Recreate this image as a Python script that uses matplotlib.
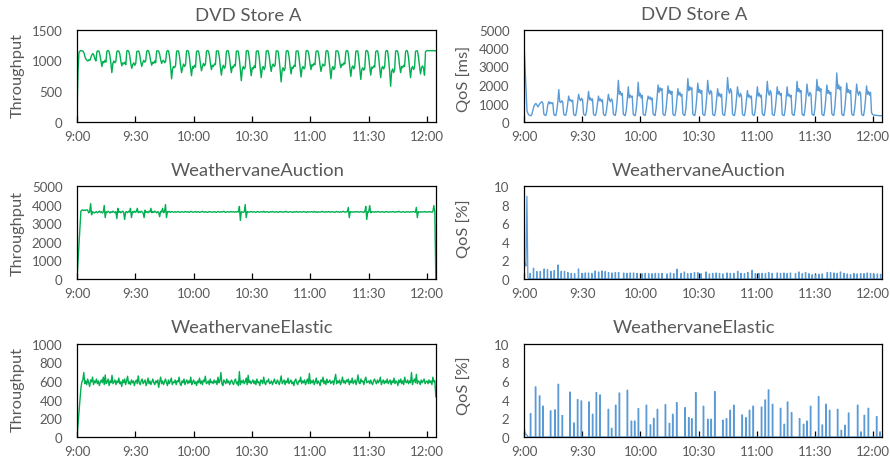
import numpy as np
import matplotlib
matplotlib.use("Agg")
import matplotlib.pyplot as plt

plt.rcParams['font.family'] = ['Lato', 'DejaVu Sans']

# ---------------- data ----------------
time_labels = ["9:00", "9:30", "10:00", "10:30", "11:00", "11:30", "12:00"]
time_ticks_min = [0, 30, 60, 90, 120, 150, 180]
x_end_min = 184.6

titles = ["DVD Store A", "WeathervaneAuction", "WeathervaneElastic"]
left_ylabel = "Throughput"
right_ylabels = ["QoS [ms]", "QoS [%]", "QoS [%]"]

# DVD Store A (sample step in minutes)
dvd_step = 0.512
dvd_throughput = [
    150, 820, 1130, 1150, 1160, 1155, 1150, 1120, 1060, 1020, 1000, 990, 1010, 1000, 1050, 1090, 1110, 1080, 1020, 990,
    1140, 1155, 1150, 1090, 1000, 900, 980, 960, 1000, 970,
    1145, 1160, 1150, 1080, 960, 800, 950, 990, 960, 980,
    1140, 1155, 1150, 1100, 990, 910, 960, 940, 970, 930,
    1150, 1160, 1145, 1070, 950, 870, 930, 960, 920, 950,
    1140, 1150, 1150, 1090, 980, 900, 960, 1000, 970, 990,
    1145, 1160, 1150, 1080, 990, 920, 970, 950, 990, 960,
    1150, 1155, 1150, 1100, 1010, 950, 990, 1000, 960, 980,
    1140, 1160, 1150, 1050, 900, 700, 860, 900, 880, 920,
    1145, 1155, 1150, 1060, 920, 800, 880, 940, 900, 930,
    1150, 1160, 1145, 1040, 880, 750, 900, 870, 920, 890,
    1140, 1155, 1150, 1070, 940, 830, 900, 950, 910, 940,
    1145, 1160, 1150, 1080, 950, 850, 920, 900, 940, 930,
    1150, 1155, 1150, 1050, 890, 760, 880, 920, 870, 900,
    1140, 1160, 1150, 1060, 920, 800, 900, 880, 930, 910,
    1145, 1155, 1145, 1030, 860, 670, 850, 900, 860, 890,
    1150, 1160, 1150, 1040, 880, 750, 880, 860, 910, 880,
    1140, 1155, 1150, 1050, 870, 720, 870, 900, 850, 900,
    1145, 1160, 1150, 1070, 930, 820, 910, 940, 900, 920,
    1150, 1155, 1145, 1020, 850, 650, 840, 880, 830, 870,
    1140, 1160, 1150, 1060, 900, 780, 890, 870, 920, 900,
    1145, 1155, 1150, 1040, 880, 730, 870, 900, 860, 890,
    1150, 1160, 1150, 1080, 950, 850, 930, 910, 950, 930,
    1140, 1155, 1150, 1070, 930, 820, 900, 940, 910, 920,
    1145, 1160, 1145, 1030, 860, 700, 860, 900, 850, 880,
    1150, 1155, 1150, 1090, 960, 880, 940, 920, 960, 940,
    1140, 1160, 1150, 1040, 880, 740, 880, 910, 860, 900,
    1145, 1155, 1150, 1030, 850, 690, 850, 880, 840, 870,
    1150, 1160, 1145, 1050, 890, 760, 890, 870, 910, 890,
    1140, 1155, 1150, 1040, 870, 720, 870, 900, 860, 900,
    1145, 1160, 1150, 1010, 820, 580, 820, 860, 800, 850,
    1150, 1155, 1150, 1060, 910, 800, 900, 880, 920, 900,
    1140, 1160, 1145, 1040, 870, 720, 870, 900, 850, 890,
    1145, 1155, 1150, 1050, 900, 780, 880, 910, 870, 760,
    1140, 1155, 1160, 1155, 1155, 1160, 1155, 1155, 1160, 1155, 1155,
]
dvd_qos_ms = [
    4250, 3000, 1800, 620, 450, 380, 350, 340, 420, 650, 850, 950, 1000, 920, 820, 900, 1000, 1050, 1100, 1020,
    430, 370, 350, 560, 950, 1100, 980, 1060, 1000, 1040,
    420, 360, 350, 600, 1050, 1750, 1100, 1050, 1150, 1080,
    430, 370, 360, 580, 1000, 1400, 1150, 1200, 1100, 1180,
    420, 360, 350, 620, 1050, 1500, 1250, 1150, 1280, 1200,
    430, 370, 360, 600, 1100, 1650, 1200, 1300, 1150, 1250,
    420, 370, 350, 580, 1000, 1400, 1150, 1250, 1100, 1200,
    430, 360, 350, 600, 1050, 1500, 1200, 1100, 1250, 1150,
    440, 380, 360, 700, 1300, 2250, 1500, 1650, 1450, 1550,
    430, 370, 350, 650, 1200, 1900, 1300, 1450, 1350, 1400,
    420, 360, 350, 680, 1250, 2150, 1400, 1550, 1300, 1450,
    430, 370, 360, 620, 1100, 1400, 1250, 1350, 1200, 1300,
    440, 380, 350, 700, 1300, 2000, 1600, 1850, 1700, 1800,
    430, 370, 360, 680, 1250, 1950, 1550, 1700, 1500, 1650,
    420, 360, 350, 650, 1200, 1800, 1450, 1600, 1400, 1500,
    440, 380, 360, 720, 1400, 2350, 1700, 1900, 1750, 1850,
    430, 370, 350, 700, 1300, 2100, 1600, 1750, 1550, 1700,
    440, 370, 360, 720, 1350, 2250, 1650, 1500, 1700, 1600,
    420, 360, 350, 650, 1200, 1800, 1400, 1550, 1350, 1500,
    440, 380, 360, 750, 1400, 2400, 1750, 1550, 1800, 1650,
    430, 370, 350, 680, 1250, 1900, 1500, 1350, 1550, 1400,
    420, 360, 350, 650, 1200, 1700, 1350, 1450, 1300, 1400,
    430, 370, 360, 680, 1250, 1900, 1400, 1550, 1350, 1450,
    440, 380, 350, 720, 1350, 2200, 1600, 1450, 1700, 1550,
    430, 370, 360, 680, 1250, 1900, 1500, 1650, 1450, 1550,
    420, 360, 350, 660, 1250, 1900, 1400, 1500, 1350, 1450,
    440, 380, 360, 720, 1350, 2200, 1650, 1800, 1600, 1700,
    430, 370, 350, 700, 1300, 2050, 1550, 1400, 1600, 1500,
    440, 380, 360, 740, 1400, 2300, 1700, 1900, 1650, 1800,
    430, 370, 350, 700, 1300, 2000, 1550, 1700, 1500, 1600,
    450, 380, 360, 780, 1500, 2650, 1800, 2000, 1750, 1900,
    430, 370, 350, 700, 1300, 2100, 1600, 1750, 1550, 1700,
    440, 380, 360, 720, 1300, 2050, 1600, 1450, 1650, 1550,
    430, 370, 350, 680, 1250, 1950, 1500, 1650, 1450, 1600,
    500, 420, 380, 370, 360, 360, 350, 350, 340, 340, 340,
]

# Weathervane (sample step in minutes)
wv_step = 0.5
auction_throughput = [
    0, 900, 1800, 2700, 3650, 3700, 3720, 3680, 3710, 3690, 3720, 3700, 3560, 3600, 4050, 3450, 3620, 3580, 3550, 3600,
    3620, 3560, 3600, 3650, 3580, 3620, 3550, 3600, 3950, 3300, 3620, 3580, 3640, 3600, 3550, 3620, 3580, 3650, 3600, 3560,
    3620, 3250, 3800, 3580, 3640, 3560, 3600, 3650, 3580, 3200, 3600, 3620, 3560, 3640, 3600, 3800, 3300, 3620, 3580, 3650,
    3580, 3620, 3800, 3560, 3620, 3580, 3650, 3600, 3550, 3300, 3700, 3580, 3620, 3560, 3640, 3600, 3800, 3560, 3620, 3580,
    3650, 3600, 3560, 3620, 3580, 3350, 3640, 3600, 3800, 3560, 3620, 4000, 3300, 3620, 3600, 3640, 3580, 3610, 3620, 3590,
    3600, 3620, 3590, 3610, 3630, 3600, 3580, 3610, 3620, 3600, 3590, 3630, 3610, 3600, 3620, 3580, 3600, 3640, 3610, 3590,
    3610, 3600, 3630, 3590, 3610, 3620, 3580, 3600, 3610, 3640, 3600, 3590, 3620, 3610, 3580, 3600, 3630, 3600, 3610, 3590,
    3600, 3620, 3610, 3580, 3600, 3630, 3610, 3590, 3620, 3600, 3610, 3640, 3600, 3580, 3610, 3620, 3600, 3590, 3630, 3610,
    3600, 3620, 3590, 3610, 3600, 3630, 3600, 3900, 3150, 3620, 3600, 3580, 3610, 4000, 3300, 3620, 3590, 3610, 3600, 3630,
    3610, 3590, 3620, 3600, 3580, 3610, 3630, 3600, 3590, 3620, 3610, 3600, 3640, 3590, 3600, 3620, 3610, 3580, 3600, 3620,
    3600, 3630, 3610, 3590, 3600, 3620, 3600, 3580, 3610, 3630, 3600, 3610, 3590, 3620, 3600, 3640, 3610, 3590, 3600, 3620,
    3610, 3600, 3580, 3620, 3600, 3610, 3630, 3590, 3600, 3620, 3610, 3590, 3600, 3630, 3610, 3600, 3580, 3620, 3600, 3610,
    3600, 3620, 3610, 3590, 3630, 3600, 3610, 3580, 3620, 3600, 3590, 3610, 3640, 3600, 3610, 3590, 3620, 3600, 3610, 3630,
    3590, 3610, 3600, 3620, 3600, 3580, 3610, 3630, 3600, 3610, 3590, 3620, 3600, 3610, 3640, 3600, 3590, 3620, 3610, 3850,
    3300, 3620, 3600, 3610, 3590, 3620, 3600, 3610, 3630, 3600, 3590, 3610, 3620, 3600, 3610, 3580, 3620, 3900, 3200, 3620,
    3600, 3950, 3560, 3620, 3600, 3610, 3590, 3620, 3600, 3610, 3630, 3600, 3590, 3610, 3620, 3600, 3580, 3610, 3630, 3600,
    3610, 3590, 3620, 3600, 3610, 3630, 3600, 3590, 3610, 3620, 3600, 3640, 3610, 3590, 3600, 3620, 3610, 3580, 3600, 3620,
    3600, 3610, 3590, 3620, 3600, 3610, 3630, 3600, 3590, 3850, 3300, 3620, 3600, 3610, 3590, 3620, 3600, 3610, 3630, 3600,
    3590, 3610, 3620, 3600, 3610, 3590, 3620, 3950, 3600, 0,
]
elastic_throughput = [
    0, 130, 260, 390, 520, 590, 610, 690, 570, 600, 560, 620, 580, 540, 610, 590, 640, 560, 600, 580,
    620, 570, 600, 550, 590, 610, 580, 640, 560, 664, 570, 590, 620, 550, 600, 580, 660, 570, 590, 610,
    560, 600, 580, 630, 570, 590, 540, 610, 580, 620, 560, 600, 650, 570, 590, 560, 610, 580, 600, 550,
    590, 610, 570, 654, 580, 560, 600, 620, 570, 590, 610, 550, 580, 630, 570, 600, 560, 590, 620, 580,
    560, 600, 580, 610, 530, 590, 640, 570, 600, 560, 590, 620, 580, 550, 610, 570, 600, 630, 560, 590,
    580, 610, 560, 600, 590, 640, 570, 550, 600, 580, 620, 560, 590, 610, 570, 600, 580, 640, 560, 590,
    610, 570, 590, 550, 600, 580, 630, 570, 600, 560, 610, 590, 650, 570, 580, 600, 560, 620, 580, 590,
    570, 610, 580, 600, 560, 640, 580, 600, 690, 570, 550, 610, 590, 570, 620, 580, 600, 560, 590, 610,
    580, 560, 600, 620, 570, 590, 550, 700, 560, 600, 580, 610, 570, 590, 630, 560, 660, 580, 600, 570,
    590, 610, 570, 600, 560, 620, 580, 590, 550, 610, 600, 570, 640, 580, 560, 600, 590, 620, 570, 580,
    600, 560, 590, 620, 580, 570, 610, 590, 560, 600, 654, 570, 590, 610, 560, 600, 580, 630, 570, 590,
    610, 570, 590, 550, 600, 620, 580, 560, 600, 590, 640, 570, 600, 580, 610, 560, 590, 620, 570, 680,
    570, 600, 580, 610, 560, 590, 630, 570, 600, 580, 550, 610, 590, 640, 570, 600, 560, 620, 580, 590,
    610, 570, 590, 600, 560, 620, 670, 570, 600, 580, 610, 560, 590, 640, 580, 600, 570, 610, 590, 620,
    560, 600, 580, 630, 570, 590, 610, 560, 600, 664, 580, 570, 620, 590, 600, 560, 610, 640, 580, 590,
    600, 570, 610, 580, 560, 600, 620, 590, 570, 610, 580, 600, 640, 560, 590, 610, 570, 600, 580, 620,
    570, 590, 610, 560, 600, 580, 630, 570, 600, 590, 550, 610, 580, 620, 570, 600, 560, 640, 590, 580,
    610, 570, 600, 580, 690, 560, 600, 620, 580, 670, 570, 600, 590, 560, 610, 580, 600, 620, 570, 590,
    600, 570, 610, 580, 600, 560, 640, 590, 600, 430,
]

# QoS [%] for Weathervane: start segment + error spikes (minute, height)
auction_qos_start_min = [0.0, 0.5, 1.0, 1.5, 2.0]
auction_qos_start_val = [1.2, 1.7, 1.4, 8.9, 0.1]
auction_spike_min = [
    3.1, 4.8, 6.5, 8.3, 10.3, 12.0, 13.8, 15.5, 17.4, 19.1,
    20.8, 22.5, 24.3, 26.0, 28.0, 29.8, 31.5, 33.2, 34.9, 36.6,
    38.4, 40.1, 41.8, 43.5, 45.2, 47.0, 48.7, 51.3, 53.0, 54.7,
    56.4, 58.2, 60.7, 62.4, 64.2, 65.9, 67.6, 69.3, 71.1, 73.6,
    75.4, 77.1, 78.8, 80.9, 82.6, 84.3, 86.0, 87.8, 89.5, 91.2,
    93.8, 95.5, 97.2, 99.0, 100.7, 102.4, 104.6, 106.3, 108.1, 110.1,
    111.8, 113.6, 115.3, 117.5, 119.2, 121.0, 122.7, 124.4, 126.1, 127.9,
    130.5, 132.2, 133.9, 135.6, 137.3, 139.9, 141.6, 143.4, 145.1, 146.8,
    148.5, 150.2, 152.0, 153.7, 156.3, 158.0, 159.7, 161.4, 163.1, 164.9,
    166.6, 168.3, 170.0, 171.7, 173.5, 175.2, 176.9, 178.6, 180.3, 182.1,
    183.8,
]
auction_spike_pct = [
    0.6, 1.15, 0.8, 0.8, 1.07, 1.0, 0.82, 0.9, 1.5, 0.82,
    0.82, 0.7, 0.6, 0.57, 1.07, 0.6, 0.64, 0.64, 0.6, 0.86,
    0.75, 0.86, 0.8, 0.68, 0.64, 0.68, 0.7, 0.64, 0.6, 0.64,
    0.64, 0.6, 0.57, 0.6, 0.57, 0.57, 0.6, 0.57, 0.6, 0.54,
    0.64, 0.57, 1.04, 0.6, 0.75, 0.57, 0.6, 0.68, 0.68, 0.57,
    0.75, 0.54, 0.6, 0.64, 0.6, 0.54, 0.64, 0.6, 0.6, 0.82,
    0.6, 0.57, 0.7, 0.93, 0.57, 0.6, 0.6, 0.57, 0.68, 0.6,
    0.64, 0.6, 0.64, 0.6, 0.64, 0.57, 0.75, 0.57, 0.68, 0.57,
    0.46, 0.43, 0.5, 0.54, 0.7, 0.68, 0.64, 0.6, 0.75, 0.6,
    0.54, 0.46, 0.6, 0.54, 0.57, 0.57, 0.64, 0.6, 0.5, 0.54,
    0.5,
]
elastic_qos_start_min = [0.0, 0.5, 1.0, 1.5, 2.0]
elastic_qos_start_val = [1.2, 0.35, 0.3, 0.2, 0.0]
elastic_spike_min = [
    3.25, 5.83, 7.9, 9.62, 13.58, 15.82, 17.54, 19.6,
    23.56, 25.63, 27.52, 29.41, 33.37, 35.26, 37.16, 39.05,
    43.35, 45.07, 47.14, 49.03, 53.16, 55.23, 56.95, 58.84,
    62.97, 65.04, 66.76, 68.65, 72.78, 74.85, 76.57, 78.63,
    82.93, 84.83, 86.38, 88.44, 92.4, 94.64, 96.36, 98.25,
    102.38, 104.28, 106.17, 108.06, 112.36, 114.26, 116.15, 118.04,
    122.35, 124.24, 125.96, 128.03, 132.16, 134.05, 135.77, 137.84,
    141.97, 144.03, 145.75, 147.65, 151.78, 153.67, 155.56, 157.46,
    161.59, 163.48, 165.37, 167.26, 171.91, 173.63, 175.35, 177.42,
    181.72, 183.44,
]
elastic_spike_pct = [
    2.5, 5.36, 4.4, 3.3, 2.8, 2.9, 5.64, 2.3,
    4.8, 1.5, 4.0, 3.86, 3.75, 2.43, 4.75, 4.5,
    2.96, 0.93, 3.4, 4.7, 5.0, 1.7, 1.7, 3.04,
    3.4, 1.3, 2.0, 2.96, 3.46, 1.46, 2.43, 3.68,
    3.14, 2.07, 1.96, 4.75, 3.29, 1.9, 1.9, 4.86,
    1.8, 1.96, 2.86, 3.4, 2.36, 2.07, 2.86, 3.3,
    3.2, 3.96, 5.04, 3.5, 3.07, 1.36, 3.75, 2.6,
    1.96, 1.36, 1.7, 3.29, 4.32, 1.29, 3.5, 2.86,
    2.96, 0.71, 1.25, 2.57, 3.4, 0.54, 2.32, 3.07,
    2.18, 0.54,
]

# ---------------- styling / layout ----------------
GREEN = "#00B050"
BLUE = "#5B9BD5"
TXT = "#595959"
W, H = 890, 464

fig = plt.figure(figsize=(8.9, 4.64), dpi=100)


def add_ax(x0, y0, x1, y1):
    return fig.add_axes([x0 / W, 1 - y1 / H, (x1 - x0) / W, (y1 - y0) / H])


def style(ax, ymax, ystep):
    ax.set_xlim(0, x_end_min)
    ax.set_ylim(0, ymax)
    ax.set_xticks(time_ticks_min)
    ax.set_xticklabels(time_labels)
    ax.set_yticks(np.arange(0, ymax + ystep / 2, ystep))
    ax.set_yticklabels([f"{int(v)}" for v in np.arange(0, ymax + ystep / 2, ystep)])
    ax.tick_params(axis="x", direction="in", length=4, width=0.9, color="black",
                   labelsize=9.5, labelcolor=TXT, pad=6)
    ax.tick_params(axis="y", length=0, labelsize=9.5, labelcolor=TXT, pad=10.5)
    for s in ax.spines.values():
        s.set_color("black")
        s.set_linewidth(0.9)


def spike_series(start_t, start_v, times, vals, width):
    xs = list(start_t)
    ys = list(start_v)
    for t, v in zip(times, vals):
        xs += [t, t, t + width, t + width]
        ys += [0, v, v, 0]
    xs.append(x_end_min)
    ys.append(0)
    return xs, ys


rows = [(30.5, 123), (187, 280), (344.5, 438)]
LX = (77, 436)
RX = (524, 882)

# Left column: throughput
left_data = [
    (np.arange(len(dvd_throughput)) * dvd_step, dvd_throughput, 1500, 500),
    (np.arange(len(auction_throughput)) * wv_step, auction_throughput, 5000, 1000),
    (np.arange(len(elastic_throughput)) * wv_step, elastic_throughput, 1000, 200),
]
for (y0, y1), (t, v, ymax, ystep) in zip(rows, left_data):
    ax = add_ax(LX[0], y0, LX[1], y1)
    ax.plot(t, v, color=GREEN, lw=1.0)
    style(ax, ymax, ystep)

# Right column: QoS
ax = add_ax(RX[0], rows[0][0], RX[1], rows[0][1])
ax.plot(np.arange(len(dvd_qos_ms)) * dvd_step, dvd_qos_ms, color=BLUE, lw=1.0)
style(ax, 5000, 1000)

ax = add_ax(RX[0], rows[1][0], RX[1], rows[1][1])
xs, ys = spike_series(auction_qos_start_min, auction_qos_start_val,
                      auction_spike_min, auction_spike_pct, 0.2)
ax.plot(xs, ys, color=BLUE, lw=0.9)
style(ax, 10, 2)

ax = add_ax(RX[0], rows[2][0], RX[1], rows[2][1])
xs, ys = spike_series(elastic_qos_start_min, elastic_qos_start_val,
                      elastic_spike_min, elastic_spike_pct, 0.3)
ax.plot(xs, ys, color=BLUE, lw=0.9)
style(ax, 10, 2)

# Titles
title_pos_left = [(248.5, 20.7), (258, 176), (252, 333)]
title_pos_right = [(694.5, 20.5), (699, 176), (694, 333)]
for t, (cx, by) in zip(titles, title_pos_left):
    fig.text(cx / W, 1 - by / H, t, ha="center", va="baseline", fontsize=13.3, color=TXT)
for t, (cx, by) in zip(titles, title_pos_right):
    fig.text(cx / W, 1 - by / H, t, ha="center", va="baseline", fontsize=13.3, color=TXT)

# Y labels
left_lab_y = [76, 233, 390]
right_lab_y = [79, 229, 386]
for cy in left_lab_y:
    fig.text(17.5 / W, 1 - cy / H, left_ylabel, rotation=90, ha="center", va="center",
             fontsize=11.8, color=TXT)
for lab, cy in zip(right_ylabels, right_lab_y):
    fig.text(464 / W, 1 - cy / H, lab, rotation=90, ha="center", va="center",
             fontsize=11.8, color=TXT)

fig.savefig("out.png", dpi=100)
